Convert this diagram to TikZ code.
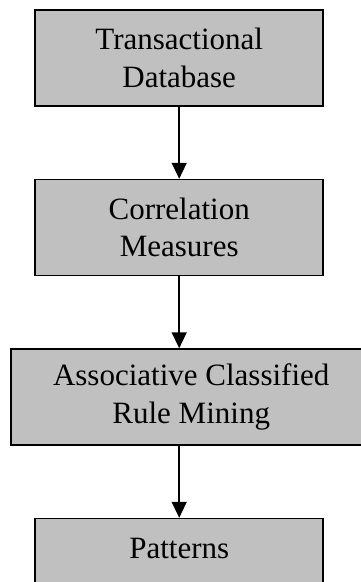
\documentclass[tikz,border=0pt]{standalone}
\usepackage{fontspec}
\setmainfont{Liberation Serif}
\usetikzlibrary{positioning,arrows.meta}
\definecolor{boxgrey}{RGB}{192, 192, 192}
\tikzstyle{stage} = [
  draw=black,
  fill=boxgrey,
  line width=1.5pt,
  rectangle,
  align=center,
  minimum width=288pt,
  minimum height=96pt,
  font=\fontsize{31}{37.5}\selectfont,
]
\tikzstyle{flow} = [
  line width=1.6pt,
  -{Triangle[width=15pt,length=16pt]},
]

\begin{document}
\begin{tikzpicture}
            \def\gap{72pt}

            \useasboundingbox (0,0) rectangle (361pt,-582pt);
            \clip (0,0) rectangle (361pt,-582pt);

            % Stages
            \node[stage] (db) at (179.2pt,-58pt) {Transactional\\Database};
            \node[stage, below=\gap of db] (corr) {Correlation\\Measures};
            \node[stage, below=\gap of corr, xshift=12pt, minimum width=360pt]
                (rule) {Associative Classified\\Rule Mining};
            \node[stage, below=\gap of rule, xshift=-12pt, text depth=37pt]
                (pat) {Patterns};

            % Arrows
            \draw[flow] (db) -- (corr);
            \draw[flow] (corr.south) -- (corr.south |- rule.north);
            \draw[flow] (pat.north |- rule.south) -- (pat.north);
          \end{tikzpicture}
\end{document}
